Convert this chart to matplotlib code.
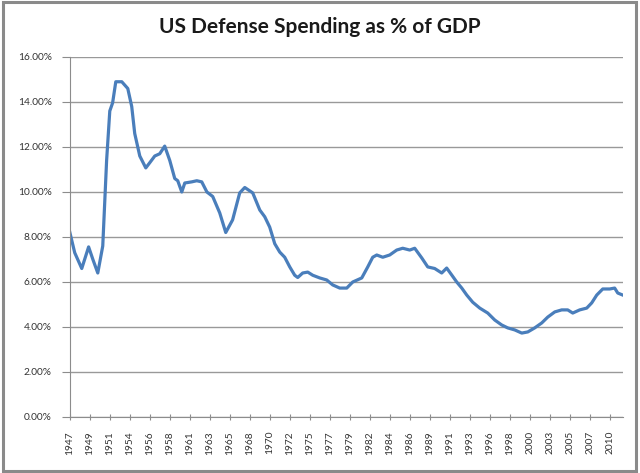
import matplotlib

matplotlib.use("Agg")
import matplotlib.pyplot as plt
from matplotlib.patches import Rectangle
from matplotlib.ticker import FuncFormatter

plt.rcParams["font.family"] = ["Lato", "DejaVu Sans"]

# values (decimal year, % of GDP)
years = [
    1947.0, 1947.58, 1948.4, 1949.2, 1949.7, 1950.27, 1950.85, 1951.3, 1951.67,
    1952.0, 1952.37, 1953.07, 1953.77, 1954.23, 1954.58, 1955.17, 1955.87,
    1956.33, 1956.92, 1957.5, 1958.08, 1958.67, 1959.25, 1959.6, 1960.07,
    1960.42, 1961.23, 1961.82, 1962.4, 1963.0, 1963.68, 1964.5, 1965.2,
    1966.0, 1966.83, 1967.42, 1968.35, 1969.17, 1969.75, 1970.33, 1970.92,
    1971.5, 1972.08, 1972.67, 1973.25, 1973.6, 1974.18, 1974.77, 1975.35,
    1976.17, 1976.98, 1977.68, 1978.5, 1979.32, 1980.02, 1981.07, 1981.77,
    1982.35, 1982.82, 1983.52, 1984.33, 1985.15, 1985.85, 1986.67, 1987.25,
    1988.07, 1988.77, 1989.58, 1990.4, 1990.98, 1991.57, 1992.15, 1992.74,
    1993.32, 1994.02, 1994.84, 1995.77, 1996.59, 1997.4, 1998.1, 1998.92,
    1999.74, 2000.44, 2001.25, 2002.07, 2002.77, 2003.59, 2004.4, 2005.1,
    2005.69, 2006.5, 2007.32, 2007.9, 2008.49, 2009.19, 2010.0, 2010.58,
    2010.94, 2011.52,
]
pct = [
    8.22, 7.3, 6.6, 7.56, 7.0, 6.4, 7.6, 11.4, 13.6,
    13.96, 14.9, 14.9, 14.6, 13.8, 12.6, 11.6, 11.07,
    11.3, 11.6, 11.7, 12.04, 11.4, 10.6, 10.5, 10.0,
    10.4, 10.45, 10.5, 10.45, 10.0, 9.8, 9.07, 8.2,
    8.76, 9.96, 10.2, 9.96, 9.2, 8.9, 8.44, 7.7,
    7.33, 7.1, 6.67, 6.3, 6.2, 6.4, 6.44, 6.3,
    6.18, 6.09, 5.87, 5.73, 5.73, 6.0, 6.18, 6.67,
    7.1, 7.2, 7.1, 7.2, 7.42, 7.5, 7.42, 7.5,
    7.07, 6.67, 6.6, 6.4, 6.62, 6.31, 6.0, 5.73,
    5.42, 5.1, 4.84, 4.62, 4.31, 4.09, 3.96, 3.87,
    3.73, 3.78, 3.96, 4.18, 4.44, 4.67, 4.76, 4.76,
    4.62, 4.76, 4.84, 5.07, 5.42, 5.69, 5.69, 5.73,
    5.51, 5.42,
]
tick_labels = [
    "1947", "1949", "1951", "1954", "1956", "1958", "1961", "1963", "1965",
    "1968", "1970", "1972", "1975", "1977", "1979", "1982", "1984", "1986",
    "1989", "1991", "1993", "1996", "1998", "2000", "2003", "2005", "2007", "2010",
]

fig = plt.figure(figsize=(6.4, 4.73), dpi=100)
ax = fig.add_axes([0.109, 0.1184, 0.864, 0.7611])

ax.plot(years, pct, color="#4A7EBB", lw=2.3, solid_joinstyle="round")

ax.set_xlim(1947.0, 1947.0 + 553 / 8.571)
ax.set_ylim(0, 16)
ax.set_yticks(range(0, 17, 2))
ax.yaxis.set_major_formatter(FuncFormatter(lambda v, _: f"{v:.2f}%"))
ax.set_xticks([1947 + k * 28 / 12 for k in range(len(tick_labels))])
ax.set_xticklabels(tick_labels, rotation=90)
ax.grid(axis="y", color="#999999", lw=1.0)
ax.set_axisbelow(True)
for side in ("top", "right"):
    ax.spines[side].set_visible(False)
ax.spines["left"].set_color("#8c8c8c")
ax.spines["bottom"].set_color("#8c8c8c")
ax.tick_params(axis="both", colors="#8c8c8c", labelcolor="#333333", labelsize=7.3)
ax.tick_params(axis="x", length=4, direction="inout", pad=8)
ax.tick_params(axis="y", length=6, direction="out", pad=7)

fig.text(0.5, 0.943, "US Defense Spending as % of GDP", ha="center", va="center",
         fontsize=15, fontweight="bold", color="#1a1a1a")
fig.patches.append(Rectangle((0.004, 0.005), 0.99, 0.99, transform=fig.transFigure,
                             fill=False, edgecolor="#8a8a8a", lw=2.2))

fig.savefig("out.png", dpi=100)
